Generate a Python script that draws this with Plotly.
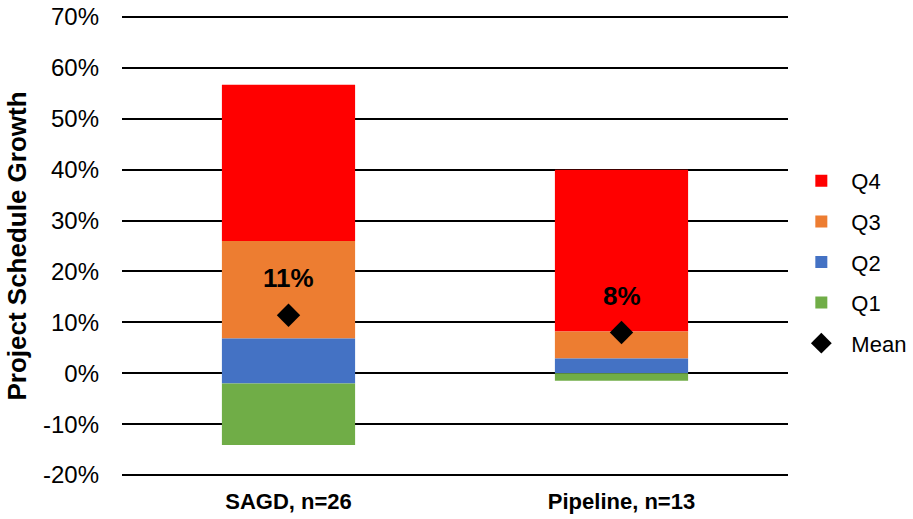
import plotly.graph_objects as go

categories = ["SAGD, n=26", "Pipeline, n=13"]
min_vals = [-14.1, -1.5]
q1_vals = [-2.0, 0.0]
median_vals = [6.8, 2.9]
q3_vals = [26.0, 8.2]
max_vals = [56.7, 40.0]
mean_vals = [11.4, 8.0]
mean_labels = ["11%", "8%"]
y_tick_vals = [-20, -10, 0, 10, 20, 30, 40, 50, 60, 70]
y_tick_text = ["-20%", "-10%", "0%", "10%", "20%", "30%", "40%", "50%", "60%", "70%"]

colors = {"Q4": "#FF0000", "Q3": "#ED7D31", "Q2": "#4472C4", "Q1": "#70AD47"}

segments = [
    ("Q4", q3_vals, max_vals),
    ("Q3", median_vals, q3_vals),
    ("Q2", q1_vals, median_vals),
    ("Q1", min_vals, q1_vals),
]

FONT = "Liberation Sans, Arial, sans-serif"
fig = go.Figure()
for name, lo, hi in segments:
    fig.add_trace(go.Bar(
        x=categories,
        y=[h - l for l, h in zip(lo, hi)],
        base=lo,
        name=name,
        legendgroup=name,
        marker=dict(color=colors[name], line=dict(width=0)),
        width=0.4,
        hoverinfo="skip",
    ))

fig.add_trace(go.Scatter(
    x=categories, y=mean_vals, mode="markers", name="Mean", legendgroup="Mean",
    marker=dict(symbol="diamond", size=18, color="black"),
))

for c, m, lab in zip(categories, mean_vals, mean_labels):
    fig.add_annotation(x=c, y=m, text="<b>" + lab + "</b>", showarrow=False,
                       yshift=37, font=dict(size=26, color="black", family=FONT))

fig.update_layout(
    width=913, height=519,
    margin=dict(l=122, r=125, t=16, b=43, autoexpand=False),
    barmode="overlay",
    plot_bgcolor="white", paper_bgcolor="white",
    font=dict(family=FONT, size=22, color="black"),
    showlegend=True,
    legend=dict(x=1.005, xanchor="left", y=0.687, yanchor="top",
                tracegroupgap=9, font=dict(size=22),
                itemwidth=50, bgcolor="rgba(0,0,0,0)"),
    xaxis=dict(showgrid=False, showline=False, ticks="", ticklabelstandoff=10,
               automargin=False,
               tickfont=dict(size=22, family=FONT, weight="bold")),
    yaxis=dict(range=[-20.2, 70.2], tickvals=y_tick_vals, ticktext=y_tick_text,
               showgrid=True, automargin=False, ticklabeloverflow="allow",
               gridcolor="black", gridwidth=1.5, zeroline=True,
               zerolinecolor="black", zerolinewidth=1.5, layer="above traces",
               ticklabelstandoff=22, showline=False,
               title=dict(text="<b>Project Schedule Growth</b>", standoff=8,
                          font=dict(size=26, family=FONT)),
               tickfont=dict(size=24, family=FONT)),
)

fig.write_html("out.html", config={"displayModeBar": False},
               post_script="document.body.style.margin='0';")
